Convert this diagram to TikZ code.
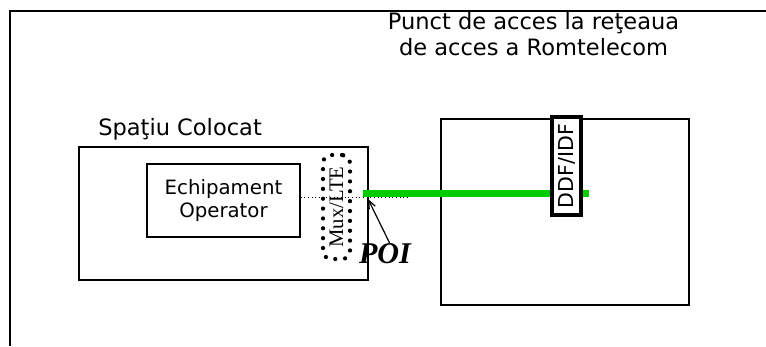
\documentclass[tikz,border=0pt]{standalone}
\usepackage{fontspec}
\setmainfont{DejaVu Sans}
\newfontfamily\timesfont{Liberation Serif}
\usetikzlibrary{positioning,arrows.meta}
\definecolor{linkgreen}{RGB}{0,204,0}

\def\pxl{0.75pt}
\tikzset{
  box/.style={draw, line width=1.1pt, inner sep=0pt},
  lbl/.style={inner sep=0pt, font=\fontsize{16.9}{19.8}\selectfont},
  muxbox/.style={draw, rounded corners=6pt, line width=3.2pt, line cap=round,
    dash pattern=on 0pt off 7.4pt, inner sep=0pt,
    font=\timesfont\fontsize{15.5}{15.5}\selectfont},
  ddfbox/.style={draw, fill=white, line width=3pt, inner sep=0pt,
    font=\fontsize{15.4}{15.4}\selectfont},
}

\begin{document}
\begin{tikzpicture}[x=0.75pt,y=-0.75pt]
\useasboundingbox (0,0) rectangle (766,346);

%Outer frame
\draw[line width=0.8pt] (10,346) -- (10,11) -- (766,11);

%Labels
\node[lbl, align=center] (title) at (533.5,34) {Punct de acces la reţeaua\\de acces a Romtelecom};
\node[lbl, anchor=base west] (spatiu) at (98,135) {Spaţiu Colocat};

%Boxes
\node[box, minimum width=289*\pxl, minimum height=133*\pxl] (colocat) at (223.5,213.5) {};
\node[box, minimum width=248*\pxl, minimum height=186*\pxl] (rtbox) at (565,212) {};
\node[box, align=center, minimum width=153*\pxl, minimum height=73*\pxl,
  font=\fontsize{14.8}{17.3}\selectfont] (echip) at (223.5,200.5) {Echipament\\Operator};
\node[muxbox, minimum width=27*\pxl, minimum height=104*\pxl] (mux) at (336.5,207) {\rotatebox{90}{Mux/LTE}};

%Link coordinates
\coordinate (tap) at (408,197);
\coordinate (feedA) at (363,193.5);
\coordinate (feedB) at (589,193.5);
\coordinate (poiPt) at (368,199);

%Links
\draw[dotted, line width=0.75pt] (echip.east |- tap) -- (tap);
\draw[linkgreen, line width=7*\pxl] (feedA) -- (feedB);
\node[ddfbox, minimum width=29*\pxl, minimum height=98*\pxl] (ddf) at (566.5,166) {\rotatebox{90}{DDF/IDF}};

%POI
\node[font=\timesfont\bfseries\itshape\fontsize{22.6}{24}\selectfont, inner sep=0pt] (poi) at (385,253.5) {POI};
\draw[-{Straight Barb[length=6pt,width=5pt]}, line width=0.9pt] ([xshift=3.5pt]poi.north) -- (poiPt);
\end{tikzpicture}
\end{document}
